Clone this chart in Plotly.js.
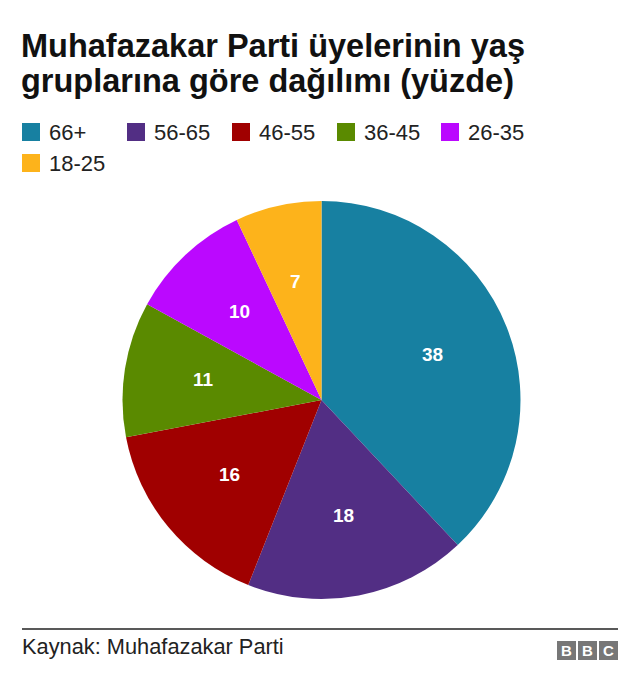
<!DOCTYPE html>
<html>
<head>
<meta charset="utf-8">
<script src="https://cdn.plot.ly/plotly-3.0.1.min.js"></script>
<style>
html,body{margin:0;padding:0;background:#fff;}
#chart{width:640px;height:688px;}
</style>
</head>
<body>
<div id="chart"></div>
<script>
// Data
var categories = ["66+", "56-65", "46-55", "36-45", "26-35", "18-25"];
var values = [38, 18, 16, 11, 10, 7];
var colors = ["#1780a1", "#522e84", "#a00000", "#5a8a00", "#bb08ff", "#fdb31b"];
var titleLines = ["Muhafazakar Parti üyelerinin yaş", "gruplarına göre dağılımı (yüzde)"];
var sourceText = "Kaynak: Muhafazakar Parti";

var W = 640, H = 688;
function px(x){ return x / W; }
function py(y){ return 1 - y / H; }

var FONT = "Liberation Sans, Arial, Helvetica, sans-serif";

// pie geometry (layout)
var PIE_L = 122.5, PIE_R = 520.5, PIE_T = 201, PIE_B = 599;
var cx = (PIE_L + PIE_R) / 2, cy = (PIE_T + PIE_B) / 2, R = (PIE_R - PIE_L) / 2;

var trace = {
  type: "pie",
  labels: categories,
  values: values,
  sort: false,
  direction: "clockwise",
  rotation: 0,
  marker: { colors: colors, line: { width: 0 } },
  textinfo: "none",
  hoverinfo: "label+value",
  domain: { x: [px(PIE_L), px(PIE_R)], y: [py(PIE_B), py(PIE_T)] },
  showlegend: false
};

var shapes = [];
var annotations = [];

// Slice value labels at 60% radius along each slice bisector (derived from values)
var total = values.reduce(function(a, b){ return a + b; }, 0);
var cum = 0;
for (var k = 0; k < values.length; k++) {
  var mid = (cum + values[k] / 2) / total * 2 * Math.PI; // clockwise from 12 o'clock
  cum += values[k];
  var lx0 = cx + 0.6 * R * Math.sin(mid);
  var ly0 = cy - 0.6 * R * Math.cos(mid);
  annotations.push({
    text: "<b>" + values[k] + "</b>", xref: "paper", yref: "paper",
    x: px(lx0), y: py(ly0 - 1.5), xanchor: "center", yanchor: "middle",
    showarrow: false, font: { family: FONT, size: 19, color: "#ffffff" }
  });
}

// Title (two lines)
var titleBase = [26, 61];
for (var t = 0; t < titleLines.length; t++) {
  annotations.push({
    text: "<b>" + titleLines[t] + "</b>",
    xref: "paper", yref: "paper", x: px(19), y: py(titleBase[t]),
    xanchor: "left", yanchor: "top", align: "left", showarrow: false,
    font: { family: FONT, size: 32.5, color: "#111111" }
  });
}

// Legend (manual, built from the category/color arrays)
var legendPos = [[22,123],[127,123],[232,123],[337,123],[441,123],[22,154]];
for (var i = 0; i < categories.length; i++) {
  var lx = legendPos[i][0], ly = legendPos[i][1];
  shapes.push({
    type: "rect", xref: "paper", yref: "paper",
    x0: px(lx), x1: px(lx + 18), y0: py(ly + 18), y1: py(ly),
    fillcolor: colors[i], line: { width: 0 }
  });
  annotations.push({
    text: categories[i], xref: "paper", yref: "paper",
    x: px(lx + 25), y: py(ly + 9.5), xanchor: "left", yanchor: "middle",
    showarrow: false, font: { family: FONT, size: 22, color: "#222222" }
  });
}

// Footer line
shapes.push({
  type: "line", xref: "paper", yref: "paper",
  x0: px(22), x1: px(618), y0: py(629), y1: py(629),
  line: { color: "#222222", width: 1.5 }
});
annotations.push({
  text: sourceText, xref: "paper", yref: "paper",
  x: px(20), y: py(646.5), xanchor: "left", yanchor: "middle",
  showarrow: false, font: { family: FONT, size: 21.8, color: "#222222" }
});

// BBC logo
var bbc = ["B", "B", "C"];
for (var j = 0; j < 3; j++) {
  var bx = 557 + j * 21;
  shapes.push({
    type: "rect", xref: "paper", yref: "paper",
    x0: px(bx), x1: px(bx + 19), y0: py(660), y1: py(641),
    fillcolor: "#777777", line: { width: 0 }
  });
  annotations.push({
    text: "<b>" + bbc[j] + "</b>", xref: "paper", yref: "paper",
    x: px(bx + 9.5), y: py(650.5), xanchor: "center", yanchor: "middle",
    showarrow: false, font: { family: FONT, size: 15, color: "#ffffff" }
  });
}

var layout = {
  width: W, height: H,
  margin: { l: 0, r: 0, t: 0, b: 0 },
  paper_bgcolor: "#ffffff",
  plot_bgcolor: "#ffffff",
  showlegend: false,
  shapes: shapes,
  annotations: annotations
};

Plotly.newPlot("chart", [trace], layout, { displayModeBar: false, staticPlot: true });
</script>
</body>
</html>
